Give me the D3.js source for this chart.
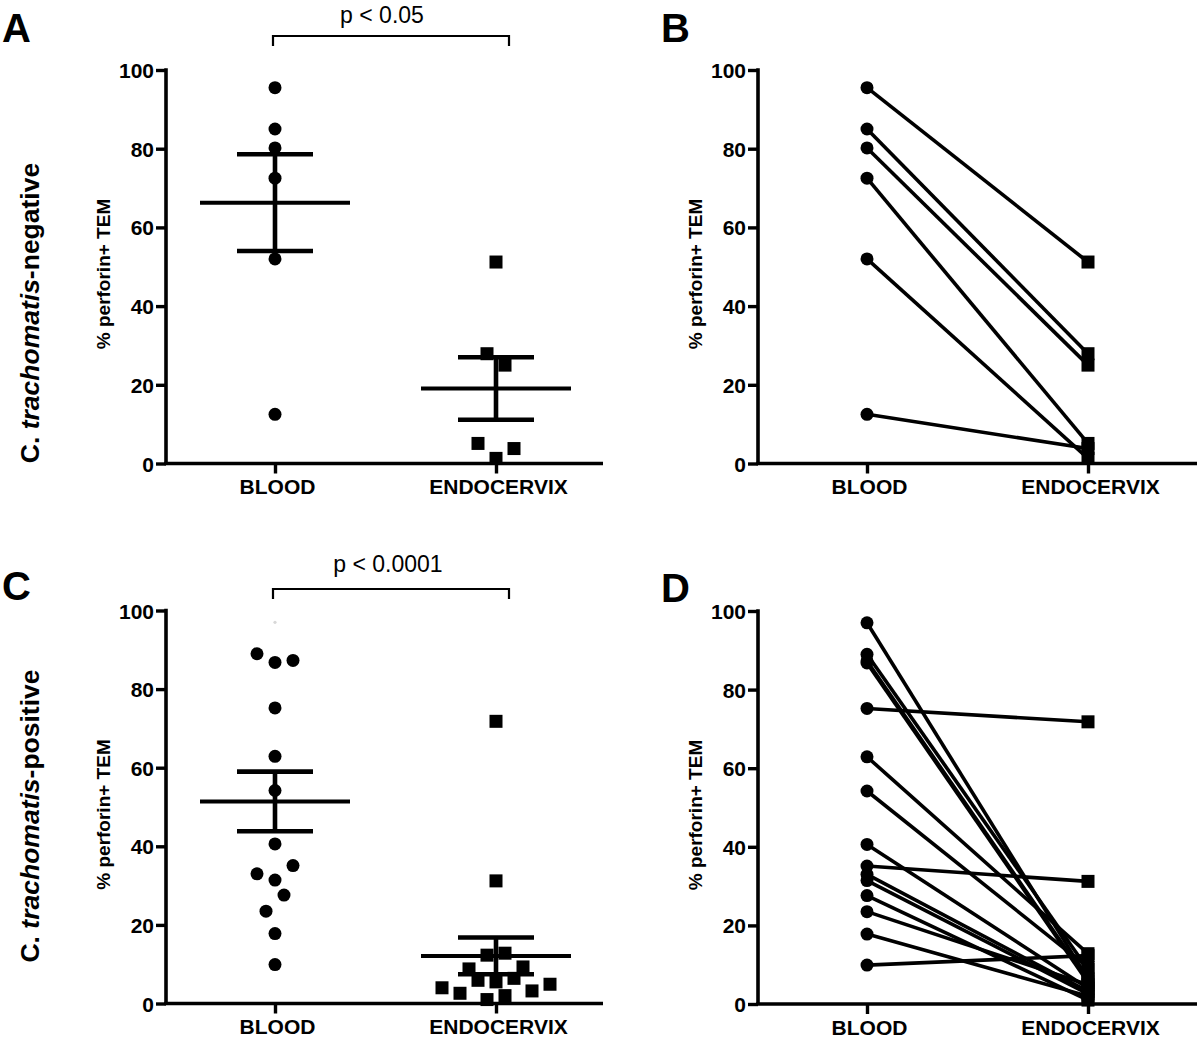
<!DOCTYPE html>
<html><head><meta charset="utf-8">
<script src="https://cdn.jsdelivr.net/npm/d3@7"></script>
<style>
body{margin:0;background:#fff}
svg{display:block}
text{font-family:"Liberation Sans",Arial,Helvetica,sans-serif}
</style></head>
<body>
<svg id="chart" width="1200" height="1041"></svg>
<script>
// ---------- data ----------
const categories = ["BLOOD", "ENDOCERVIX"];
const yTicks = [0, 20, 40, 60, 80, 100];
const yTitle = "% perforin+ TEM";
const panelLetters = ["A", "B", "C", "D"];
const pLabels = ["p < 0.05", "p < 0.0001"];
const rowPrefix = "C. ";
const rowItalic = "trachomatis";
const rowSuffixes = ["-negative", "-positive"];

// C. trachomatis-negative: paired blood / endocervix values (subject order)
const negBlood = [95.5, 85.0, 80.2, 52.0, 72.5, 12.5];
const negEndo  = [51.2, 27.9, 25.0, 1.3, 5.1, 3.8];
// C. trachomatis-positive: paired blood / endocervix values (subject order)
const posBlood = [9.9, 62.9, 86.8, 89.0, 87.3, 54.2, 97.0, 75.2, 31.4, 33.0, 35.1, 40.6, 23.5, 27.6, 17.8];
const posEndo  = [12.3, 12.8, 5.5, 8.8, 5.9, 9.3, 6.4, 71.8, 2.6, 3.2, 31.2, 4.0, 4.9, 1.0, 2.0];
// point in panel C that is printed almost invisibly in the original
const posFadedBloodIndex = 6;

// ---------- drawing ----------
const svg = d3.select("#chart");
const black = "#000";

function makePanel(axisX, xEnd, yTop, yBot) {
  const y = d3.scaleLinear().domain([0, 100]).range([yBot, yTop]);
  const x = d3.scalePoint().domain(categories).range([axisX + 109, axisX + 330]);
  const g = svg.append("g");
  // y axis
  const ya = g.append("g").attr("transform", `translate(${axisX},0)`)
    .call(d3.axisLeft(y).tickValues(yTicks).tickSize(10).tickSizeOuter(0).tickPadding(2));
  ya.select(".domain").attr("stroke", black).attr("stroke-width", 3.6)
    .attr("d", `M0,${yTop - 1.8}V${yBot}`);
  ya.selectAll(".tick line").attr("stroke", black).attr("stroke-width", 3.4);
  ya.selectAll(".tick text").attr("fill", black).style("font-size", "21px").style("font-weight", "bold")
    .attr("dy", "0.36em");
  // x axis
  g.append("line").attr("x1", axisX - 1.8).attr("x2", xEnd).attr("y1", yBot).attr("y2", yBot)
    .attr("stroke", black).attr("stroke-width", 3.6);
  const xa = g.append("g").attr("transform", `translate(0,${yBot})`)
    .call(d3.axisBottom(x).tickSize(10).tickSizeOuter(0).tickPadding(5));
  xa.select(".domain").remove();
  xa.selectAll(".tick line").attr("stroke", black).attr("stroke-width", 3.4);
  xa.selectAll(".tick text").attr("fill", black).style("font-size", "21px").style("font-weight", "bold")
    .attr("dy", "0.74em").attr("dx", 2);
  // y title
  g.append("text").attr("transform", `translate(${axisX - 56},${yTop + 204}) rotate(-90)`)
    .attr("text-anchor", "middle").style("font-size", "19px").style("font-weight", "bold")
    .text(yTitle);
  return { g, x, y };
}

// beeswarm-like horizontal spreading: points whose y positions fall within one
// symbol-height band share a row and are spread symmetrically around the category.
function swarm(values, y, rowPx, step) {
  const order = d3.range(values.length)
    .sort((a, b) => d3.descending(values[a], values[b]) || a - b);
  const off = new Array(values.length).fill(0);
  let i = 0;
  while (i < order.length) {
    const start = y(values[order[i]]);
    const row = [];
    let j = i;
    while (j < order.length && y(values[order[j]]) - start <= rowPx) { row.push(order[j]); j++; }
    row.sort((a, b) => a - b);
    const n = row.length;
    const slots = d3.range(n).map(k => (k - (n - 1) / 2) * step)
      .sort((a, b) => Math.abs(a) - Math.abs(b) || a - b);
    row.forEach((idx, k) => { off[idx] = slots[k]; });
    i = j;
  }
  return off;
}

const R = 6.5, S = 13;

function drawCircles(g, cx, cyFn, values, offsets, fadedIdx) {
  g.selectAll(null).data(values).enter().append("circle")
    .attr("cx", (d, i) => cx + (offsets ? offsets[i] : 0))
    .attr("cy", d => cyFn(d))
    .attr("r", (d, i) => i === fadedIdx ? 1.6 : R)
    .attr("fill", (d, i) => i === fadedIdx ? "#d8d8d8" : black);
}
function drawSquares(g, cx, cyFn, values, offsets) {
  g.selectAll(null).data(values).enter().append("rect")
    .attr("x", (d, i) => cx + (offsets ? offsets[i] : 0) - S / 2)
    .attr("y", d => cyFn(d) - S / 2)
    .attr("width", S).attr("height", S).attr("fill", black);
}
function drawMeanSem(g, cx, y, values) {
  const m = d3.mean(values);
  const sem = d3.deviation(values) / Math.sqrt(values.length);
  g.append("line").attr("x1", cx).attr("x2", cx).attr("y1", y(m - sem)).attr("y2", y(m + sem))
    .attr("stroke", black).attr("stroke-width", 4.6);
  [m - sem, m + sem].forEach(v => g.append("line").attr("x1", cx - 38).attr("x2", cx + 38)
    .attr("y1", y(v)).attr("y2", y(v)).attr("stroke", black).attr("stroke-width", 4.6));
  g.append("line").attr("x1", cx - 75).attr("x2", cx + 75).attr("y1", y(m)).attr("y2", y(m))
    .attr("stroke", black).attr("stroke-width", 4);
}

function scatterPanel(p, blood, endo, fadedIdx) {
  const rowPx = 4.25 * (p.y(0) - p.y(1));
  const offB = swarm(blood, p.y, rowPx, 18);
  const offE = swarm(endo, p.y, rowPx, 18);
  drawCircles(p.g, p.x(categories[0]), p.y, blood, offB, fadedIdx);
  drawSquares(p.g, p.x(categories[1]), p.y, endo, offE);
  drawMeanSem(p.g, p.x(categories[0]), p.y, blood);
  drawMeanSem(p.g, p.x(categories[1]), p.y, endo);
}

function pairedPanel(p, blood, endo) {
  const xb = p.x(categories[0]), xe = p.x(categories[1]);
  p.g.selectAll(null).data(blood).enter().append("line")
    .attr("x1", xb).attr("y1", d => p.y(d))
    .attr("x2", xe).attr("y2", (d, i) => p.y(endo[i]))
    .attr("stroke", black).attr("stroke-width", 3.6);
  drawCircles(p.g, xb, p.y, blood, null, -1);
  drawSquares(p.g, xe, p.y, endo, null);
}

function bracket(x1, x2, yLine, label, tx, ty) {
  svg.append("path").attr("d", `M${x1},${yLine + 10}V${yLine}H${x2}V${yLine + 10}`)
    .attr("fill", "none").attr("stroke", black).attr("stroke-width", 2.2);
  svg.append("text").attr("x", tx).attr("y", ty).attr("text-anchor", "middle")
    .style("font-size", "23px").text(label);
}

function rowLabel(cx, cy, suffix) {
  const t = svg.append("text").attr("transform", `translate(${cx},${cy}) rotate(-90)`)
    .attr("text-anchor", "middle").style("font-size", "26.5px").style("font-weight", "bold");
  t.append("tspan").text(rowPrefix);
  t.append("tspan").style("font-style", "italic").text(rowItalic);
  t.append("tspan").text(suffix);
}

const pA = makePanel(166, 603, 70, 463.5);
const pB = makePanel(758, 1197, 70, 463.5);
const pC = makePanel(166, 603, 610.5, 1003.5);
const pD = makePanel(758, 1197, 611, 1004);

scatterPanel(pA, negBlood, negEndo, -1);
pairedPanel(pB, negBlood, negEndo);
scatterPanel(pC, posBlood, posEndo, posFadedBloodIndex);
pairedPanel(pD, posBlood, posEndo);

bracket(273, 509, 36, pLabels[0], 382, 23);
bracket(273, 509, 589, pLabels[1], 388, 572);

[[2, 42], [661, 42], [2, 600], [661, 602]].forEach((pos, i) =>
  svg.append("text").attr("x", pos[0]).attr("y", pos[1]).style("font-size", "40px")
    .style("font-weight", "bold").text(panelLetters[i]));

rowLabel(39, 313, rowSuffixes[0]);
rowLabel(39, 816, rowSuffixes[1]);
</script>
</body></html>
